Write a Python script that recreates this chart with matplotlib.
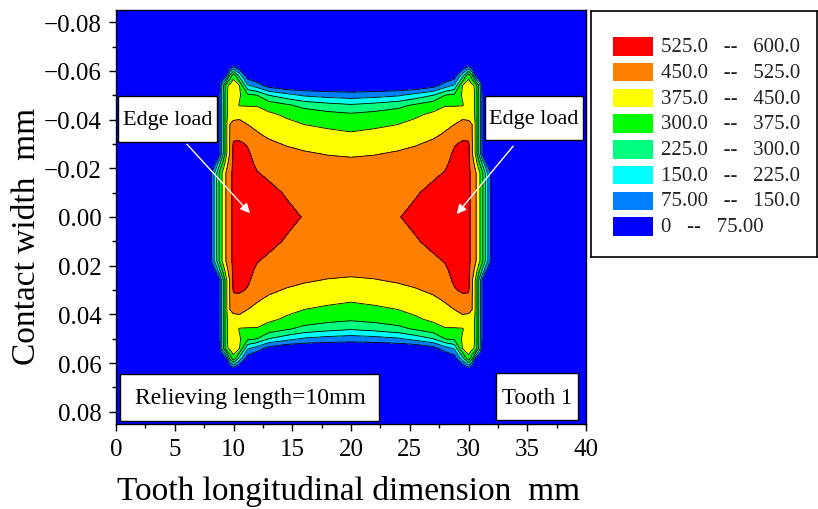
import numpy as np
import matplotlib
matplotlib.use("Agg")
import matplotlib.pyplot as plt
from matplotlib.patches import Rectangle
from matplotlib.ticker import MultipleLocator, FuncFormatter

plt.rcParams['font.family'] = ['Liberation Serif', 'DejaVu Serif']

# === Contact stress bands (MPa) ===
levels = [0, 75, 150, 225, 300, 375, 450, 525, 600]
band_colors = ['#0000FF', '#0080FF', '#00FFFF', '#00FF80',
               '#00FF00', '#FFFF00', '#FF8000', '#FF0000']

# === Stress field, one quarter (x 0..20 mm, y 0..0.085 mm) ===
x_q = [0, 7.9, 8.2, 8.5, 8.8, 9.1, 9.4, 9.7, 10.0, 10.5, 11.2, 12.0, 13.0, 14.5, 16.0, 18.0, 20.0]
y_q = [0, 0.010, 0.018, 0.022, 0.026, 0.030, 0.034, 0.038, 0.042, 0.046,
       0.050, 0.054, 0.058, 0.062, 0.066, 0.085]
s_q = [
    [0, 0, 95, 200, 310, 395, 460, 500, 545, 558, 562, 560, 555, 540, 522, 500, 490],
    [0, 0, 95, 200, 310, 395, 460, 500, 545, 556, 558, 548, 540, 520, 508, 493, 487],
    [0, 0, 95, 200, 310, 395, 460, 500, 545, 552, 550, 528, 515, 500, 490, 480, 475],
    [0, 0, 20, 80, 200, 320, 420, 490, 542, 548, 542, 515, 500, 486, 476, 467, 462],
    [0, 0, 0, 0, 50, 210, 365, 460, 540, 545, 535, 500, 484, 468, 456, 447, 443],
    [0, 0, 0, 0, 50, 210, 365, 460, 535, 535, 520, 482, 462, 445, 435, 422, 415],
    [0, 0, 0, 0, 50, 210, 365, 455, 500, 505, 478, 456, 438, 418, 405, 392, 383],
    [0, 0, 0, 0, 50, 210, 365, 452, 468, 470, 450, 435, 412, 392, 375, 362, 350],
    [0, 0, 0, 0, 50, 210, 365, 400, 425, 430, 420, 405, 388, 365, 345, 325, 312],
    [0, 0, 0, 0, 50, 210, 365, 400, 410, 370, 368, 370, 345, 310, 275, 250, 232],
    [0, 0, 0, 0, 50, 210, 365, 400, 405, 385, 318, 300, 225, 180, 140, 120, 110],
    [0, 0, 0, 0, 40, 200, 360, 395, 400, 378, 160, 110, 40, 0, 0, 0, 0],
    [0, 0, 0, 0, 0, 0, 60, 250, 360, 200, 30, 0, 0, 0, 0, 0, 0],
    [0, 0, 0, 0, 0, 0, 0, 0, 60, 0, 0, 0, 0, 0, 0, 0, 0],
    [0] * 17,
    [0] * 17,
]

# mirror the quarter about x = 20 and y = 0
x_q = np.array(x_q)
y_q = np.array(y_q)
s_q = np.array(s_q, dtype=float)
x = np.concatenate([x_q, 40 - x_q[::-1][1:]])
y = np.concatenate([-y_q[::-1], y_q[1:]])
half = np.hstack([s_q, s_q[:, ::-1][:, 1:]])
stress = np.vstack([half[::-1], half[1:]])

fig = plt.figure(figsize=(8.18, 5.10), dpi=100)
ax = fig.add_axes([116 / 818, 1 - 425 / 510, 470 / 818, 414 / 510])

ax.contourf(x, y, stress, levels=levels, colors=band_colors)
ax.contour(x, y, stress, levels=levels[1:-1], colors='k', linewidths=0.6)

ax.set_xlim(0, 40)
ax.set_ylim(0.085, -0.085)
ax.xaxis.set_major_locator(MultipleLocator(5))
ax.xaxis.set_minor_locator(MultipleLocator(2.5))
ax.yaxis.set_major_locator(MultipleLocator(0.02))
ax.yaxis.set_minor_locator(MultipleLocator(0.01))
ax.yaxis.set_major_formatter(FuncFormatter(
    lambda v, p: f"{abs(v):.2f}" if abs(v) < 1e-9 else f"{v:.2f}".replace('-', '\u2212')))
ax.tick_params(which='major', direction='out', length=5, width=1, labelsize=18, pad=5)
ax.tick_params(which='minor', direction='out', length=3, width=1)
for sp in ax.spines.values():
    sp.set_linewidth(1)

ax.set_xlabel("Tooth longitudinal dimension  mm", fontsize=24)
ax.set_ylabel("Contact width  mm", fontsize=24)
ax.xaxis.set_label_coords(0.494, -0.123)
ax.yaxis.set_label_coords(-0.157, 0.455)

# === Annotation boxes ===
boxes = [
    ((0.0043, 0.6812, 0.2106, 0.1111), (0.1096, 0.7367), "Edge load", 16),
    ((0.7851, 0.6860, 0.2085, 0.1063), (0.8894, 0.7391), "Edge load", 16),
    ((0.0085, 0.0072, 0.5511, 0.1136), (0.2851, 0.0640), "Relieving length=10mm", 17),
    ((0.8085, 0.0097, 0.1745, 0.1135), (0.8957, 0.0652), "Tooth 1", 16.5),
]
for (bx, by, bw, bh), (tx, ty), txt, fs in boxes:
    ax.add_patch(Rectangle((bx, by), bw, bh, transform=ax.transAxes,
                           facecolor='white', edgecolor='black', lw=1, zorder=5))
    ax.text(tx, ty, txt, transform=ax.transAxes, ha='center', va='center',
            fontsize=fs, zorder=6)

arrow_kw = dict(arrowstyle='-|>', color='white', lw=1.0, mutation_scale=14,
                shrinkA=0, shrinkB=0)
ax.annotate('', xy=(11.4, -0.0016), xytext=(6.04, -0.0299), arrowprops=arrow_kw, zorder=7)
ax.annotate('', xy=(29.0, -0.0012), xytext=(33.8, -0.0291), arrowprops=arrow_kw, zorder=7)

# === Band legend ===
lax = fig.add_axes([591 / 818, 1 - 258 / 510, 226 / 818, 246 / 510])
lax.set_xlim(0, 226)
lax.set_ylim(246, 0)
lax.set_xticks([])
lax.set_yticks([])
for sp in lax.spines.values():
    sp.set_linewidth(1.2)


def fmt(v):
    if v == 0:
        return "0"
    if v < 100:
        return f"{v:.2f}"
    return f"{v:.1f}"


n = len(band_colors)
for i in range(n):
    k = n - 1 - i
    top = 26.3 + i * 25.7
    lax.add_patch(Rectangle((21.7, top), 40, 18.4, facecolor=band_colors[k], edgecolor='none'))
    lax.text(69.7, top + 9.5, f"{fmt(levels[k])}   --   {fmt(levels[k + 1])}",
             va='center', ha='left', fontsize=15, color='#222222')

fig.savefig("out.png", dpi=100)
